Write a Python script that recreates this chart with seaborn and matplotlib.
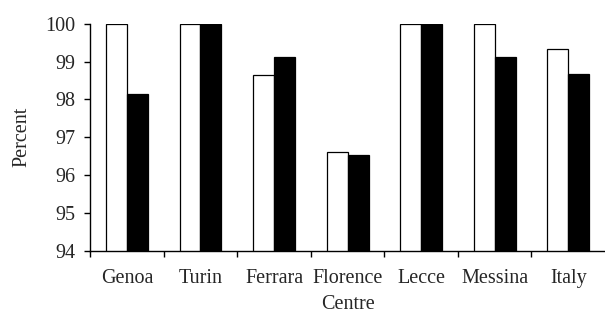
import numpy as np
import pandas as pd
import matplotlib
matplotlib.use("Agg")
import matplotlib.pyplot as plt
from matplotlib.ticker import FixedLocator
import seaborn as sns

centres = ["Genoa", "Turin", "Ferrara", "Florence", "Lecce", "Messina", "Italy"]
series_a = [100.0, 100.0, 98.65, 96.61, 100.0, 100.0, 99.33]   # white bars
series_b = [98.14, 100.0, 99.11, 96.52, 100.0, 99.13, 98.68]   # black bars
y_ticks = [94, 95, 96, 97, 98, 99, 100]

df = pd.DataFrame({
    "Centre": centres * 2,
    "Percent": series_a + series_b,
    "Series": ["A"] * len(centres) + ["B"] * len(centres),
})

sns.set_style("white")
plt.rcParams["font.family"] = ["Liberation Serif", "DejaVu Serif"]

FS = 14.5

fig = plt.figure(figsize=(6.05, 3.14), dpi=100)
ax = fig.add_axes([0.149, 0.202, 0.851, 0.722])

sns.barplot(
    data=df, x="Centre", y="Percent", hue="Series",
    order=centres, hue_order=["A", "B"],
    palette={"A": "white", "B": "black"},
    edgecolor="black", linewidth=0.9,
    width=0.57, gap=0, legend=False, ax=ax,
)

ax.set_ylim(94, 100)
ax.set_xlim(-0.5, len(centres) - 0.5)
ax.set_yticks(y_ticks)
ax.tick_params(axis="y", left=True, length=4, width=1, color="black",
               direction="out", labelsize=FS, pad=6.5)
ax.tick_params(axis="x", which="major", length=0, labelsize=FS, pad=13)
ax.xaxis.set_minor_locator(FixedLocator(np.arange(-0.5, len(centres) - 0.5, 1.0)))
ax.tick_params(axis="x", which="minor", bottom=True, length=4, width=1,
               color="black", direction="out")

for s in ["top", "right"]:
    ax.spines[s].set_visible(False)
for s in ["bottom", "left"]:
    ax.spines[s].set_color("black")
    ax.spines[s].set_linewidth(1)

ax.set_xlabel("Centre", fontsize=FS, labelpad=5)
ax.set_ylabel("Percent", fontsize=FS, labelpad=10)

fig.savefig("out.png", dpi=100)
